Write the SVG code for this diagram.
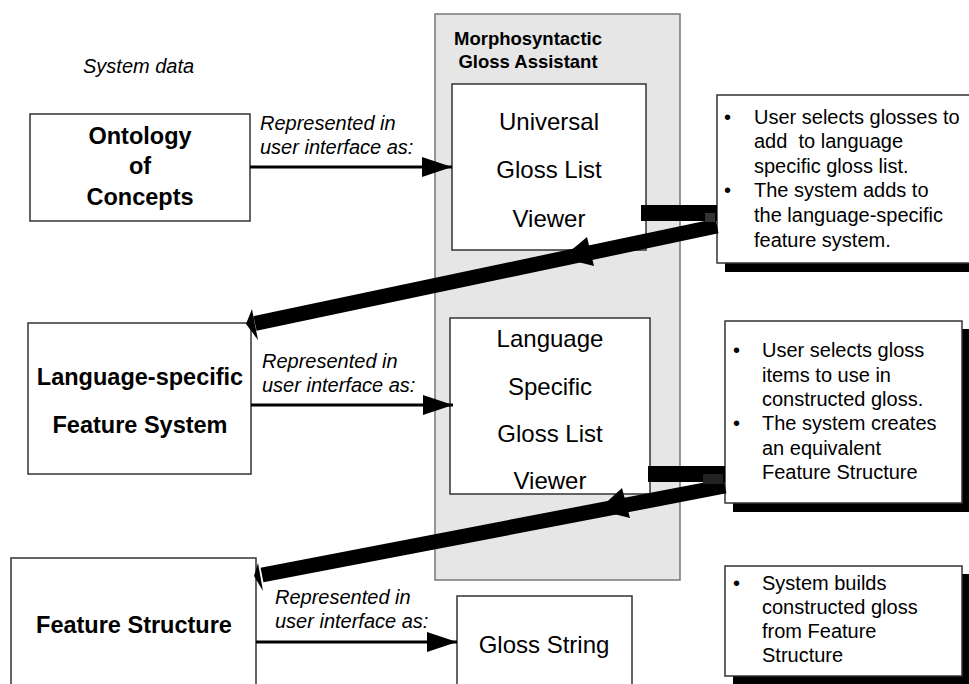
<svg xmlns="http://www.w3.org/2000/svg" width="969" height="684" viewBox="0 0 969 684">
<defs>
<style>
text{font-family:"Liberation Sans",Arial,sans-serif;fill:#000}
.box{fill:#fff;stroke:#333;stroke-width:1.5}
.shadow{fill:#000}
.big{font-size:24px}
.bold{font-size:23.5px;font-weight:bold}
.it{font-size:20px;font-style:italic}
.note{font-size:20px;white-space:pre}
.title{font-size:18.5px;font-weight:bold}
.thin{stroke:#000;stroke-width:3;fill:none}
.thick{stroke:#000;stroke-width:15;fill:none}
</style>
<marker id="ah" markerUnits="userSpaceOnUse" markerWidth="30" markerHeight="20" refX="30" refY="10" orient="auto">
<path d="M0,0 L30,10 L0,20 Z" fill="#000"/>
</marker>
</defs>
<rect width="969" height="684" fill="#fff"/>
<text class="it" x="83" y="73">System data</text>

<g id="gloss-assistant">
<rect x="435" y="14" width="245" height="566" fill="#e6e6e6" stroke="#777" stroke-width="1.5"/>
<text class="title" x="528" y="45" text-anchor="middle">Morphosyntactic</text>
<text class="title" x="528" y="68" text-anchor="middle">Gloss Assistant</text>
</g>

<g id="ontology">
<rect class="box" x="30" y="114" width="220" height="107"/>
<text class="bold" x="140" y="144" text-anchor="middle">Ontology</text>
<text class="bold" x="140" y="174" text-anchor="middle">of</text>
<text class="bold" x="140" y="205" text-anchor="middle">Concepts</text>
</g>

<g id="lang-feature-system">
<rect class="box" x="28" y="323" width="223" height="151"/>
<text class="bold" x="140" y="385" text-anchor="middle">Language-specific</text>
<text class="bold" x="140" y="433" text-anchor="middle">Feature System</text>
</g>

<g id="feature-structure">
<rect class="box" x="11" y="558" width="245" height="140"/>
<text class="bold" x="134" y="633" text-anchor="middle">Feature Structure</text>
</g>

<g id="universal-viewer">
<rect class="box" x="452" y="84" width="194" height="166"/>
<text class="big" x="549" y="130" text-anchor="middle">Universal</text>
<text class="big" x="549" y="178" text-anchor="middle">Gloss List</text>
<text class="big" x="549" y="227" text-anchor="middle">Viewer</text>
</g>

<g id="lang-viewer">
<rect class="box" x="450" y="318" width="200" height="176"/>
<text class="big" x="550" y="347" text-anchor="middle">Language</text>
<text class="big" x="550" y="395" text-anchor="middle">Specific</text>
<text class="big" x="550" y="442" text-anchor="middle">Gloss List</text>
<text class="big" x="550" y="489" text-anchor="middle">Viewer</text>
</g>

<g id="gloss-string">
<rect class="box" x="457" y="596" width="175" height="100"/>
<text class="big" x="544" y="653" text-anchor="middle">Gloss String</text>
</g>

<g id="note1">
<rect class="shadow" x="725" y="103" width="260" height="169"/>
<rect class="box" x="717" y="95" width="260" height="168"/>
<text class="note" x="724" y="123.5">•</text>
<text class="note" x="754" y="123.5">User selects glosses to</text>
<text class="note" x="754" y="148">add  to language</text>
<text class="note" x="754" y="172.5">specific gloss list.</text>
<text class="note" x="724" y="197">•</text>
<text class="note" x="754" y="197">The system adds to</text>
<text class="note" x="754" y="221.5">the language-specific</text>
<text class="note" x="754" y="246.5">feature system.</text>
</g>

<g id="note2">
<rect class="shadow" x="733" y="329" width="237" height="183"/>
<rect class="box" x="725" y="321" width="237" height="182"/>
<text class="note" x="733" y="357">•</text>
<text class="note" x="762" y="357">User selects gloss</text>
<text class="note" x="762" y="381.5">items to use in</text>
<text class="note" x="762" y="405.5">constructed gloss.</text>
<text class="note" x="733" y="430">•</text>
<text class="note" x="762" y="430">The system creates</text>
<text class="note" x="762" y="454.5">an equivalent</text>
<text class="note" x="762" y="478.5">Feature Structure</text>
</g>

<g id="note3">
<rect class="shadow" x="733" y="574" width="237" height="118"/>
<rect class="box" x="725" y="566" width="237" height="110"/>
<text class="note" x="733" y="590">•</text>
<text class="note" x="762" y="590">System builds</text>
<text class="note" x="762" y="614">constructed gloss</text>
<text class="note" x="762" y="638">from Feature</text>
<text class="note" x="762" y="662">Structure</text>
</g>

<g id="connectors">
<text class="it" x="260" y="130">Represented in</text>
<text class="it" x="260" y="154">user interface as:</text>
<line class="thin" x1="250" y1="167" x2="452" y2="167" marker-end="url(#ah)"/>

<text class="it" x="262" y="368">Represented in</text>
<text class="it" x="262" y="392">user interface as:</text>
<line class="thin" x1="251" y1="405" x2="453" y2="405" marker-end="url(#ah)"/>

<text class="it" x="275" y="604">Represented in</text>
<text class="it" x="275" y="628">user interface as:</text>
<line class="thin" x1="256" y1="642" x2="457" y2="642" marker-end="url(#ah)"/>

<rect x="641" y="205" width="76" height="16" fill="#000"/>
<line class="thick" x1="717" y1="226" x2="255" y2="323.5"/>
<polygon points="246,324 252,309 258,340" fill="#000"/>
<polygon points="562,258 587,237 594,266" fill="#000"/>
<rect x="705" y="213" width="10" height="9" fill="#333"/>

<rect x="648" y="466" width="77" height="16" fill="#000"/>
<line class="thick" x1="725" y1="486" x2="262" y2="575"/>
<polygon points="254,576 258,563 263,591" fill="#000"/>
<polygon points="598,510 622,488 630,518" fill="#000"/>
<rect x="703" y="474" width="20" height="10" fill="#222"/>
</g>
</svg>
